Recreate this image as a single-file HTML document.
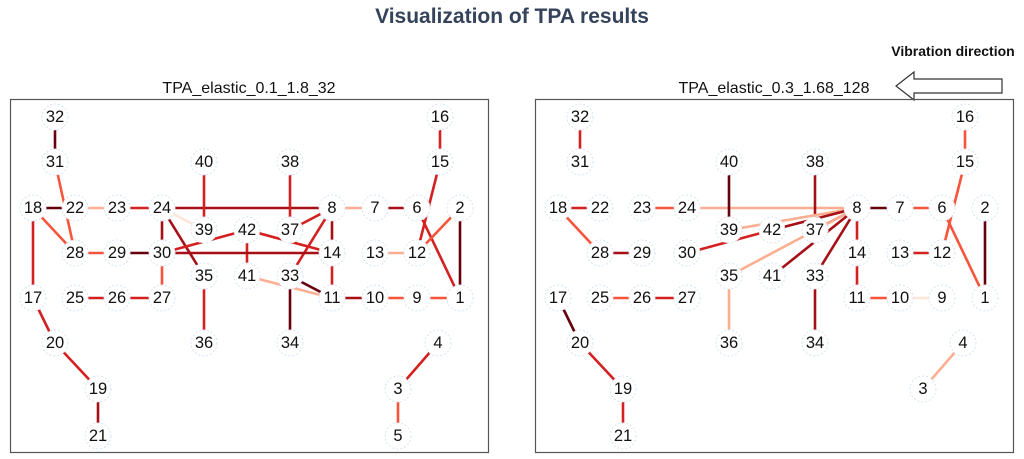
<!DOCTYPE html>
<html><head><meta charset="utf-8"><style>
body{margin:0;background:#fff;width:1024px;height:459px;overflow:hidden}
svg{display:block;font-family:"Liberation Sans","DejaVu Sans",sans-serif}
.n circle{fill:#fff;stroke:#d6e4f3;stroke-width:1;stroke-dasharray:2 2}
.n text{font-size:16.5px;fill:#111;text-anchor:middle;dominant-baseline:central}
line{stroke-width:2.6}
.k{stroke:#67000d}.d{stroke:#a50f15}.r{stroke:#d42020}.o{stroke:#f6553c}.l{stroke:#fcae91}.f{stroke:#fee5d9}
</style></head><body>
<svg width="1024" height="459" viewBox="0 0 1024 459">
<text x="512" y="23" font-size="21" font-weight="bold" fill="#34425a" text-anchor="middle">Visualization of TPA results</text>
<text x="953" y="56" font-size="14" font-weight="bold" fill="#111" text-anchor="middle">Vibration direction</text>
<polygon points="896,86 914,72 914,79 1002,79 1002,93 914,93 914,100" fill="#fff" stroke="#333" stroke-width="1.2"/>
<text x="249" y="93" font-size="16" fill="#111" text-anchor="middle">TPA_elastic_0.1_1.8_32</text>
<text x="774" y="93" font-size="16" fill="#111" text-anchor="middle">TPA_elastic_0.3_1.68_128</text>
<rect x="10.5" y="99.5" width="478" height="353" fill="none" stroke="#555" stroke-width="1.2"/>
<rect x="535.5" y="99.5" width="478" height="353" fill="none" stroke="#555" stroke-width="1.2"/>

<g>
<line class="k" x1="55" y1="117" x2="55" y2="162"/>
<line class="o" x1="55" y1="162" x2="75" y2="253"/>
<line class="k" x1="33" y1="208" x2="75" y2="208"/>
<line class="o" x1="33" y1="208" x2="75" y2="253"/>
<line class="r" x1="33" y1="208" x2="33" y2="298"/>
<line class="l" x1="75" y1="208" x2="117" y2="208"/>
<line class="r" x1="117" y1="208" x2="162" y2="208"/>
<line class="d" x1="162" y1="208" x2="332" y2="208"/>
<line class="f" x1="162" y1="208" x2="204" y2="230"/>
<line class="d" x1="162" y1="208" x2="162" y2="253"/>
<line class="d" x1="162" y1="208" x2="204" y2="276"/>
<line class="r" x1="204" y1="162" x2="204" y2="230"/>
<line class="r" x1="290" y1="162" x2="290" y2="230"/>
<line class="l" x1="332" y1="208" x2="375" y2="208"/>
<line class="d" x1="375" y1="208" x2="417" y2="208"/>
<line class="r" x1="417" y1="208" x2="460" y2="298"/>
<line class="r" x1="440" y1="117" x2="440" y2="162"/>
<line class="r" x1="440" y1="162" x2="417" y2="253"/>
<line class="o" x1="460" y1="208" x2="417" y2="253"/>
<line class="k" x1="460" y1="208" x2="460" y2="298"/>
<line class="l" x1="375" y1="253" x2="417" y2="253"/>
<line class="r" x1="332" y1="208" x2="290" y2="230"/>
<line class="r" x1="332" y1="208" x2="290" y2="276"/>
<line class="d" x1="332" y1="208" x2="332" y2="253"/>
<line class="r" x1="247" y1="230" x2="162" y2="253"/>
<line class="r" x1="247" y1="230" x2="332" y2="253"/>
<line class="r" x1="247" y1="230" x2="247" y2="276"/>
<line class="o" x1="75" y1="253" x2="117" y2="253"/>
<line class="k" x1="117" y1="253" x2="162" y2="253"/>
<line class="d" x1="162" y1="253" x2="332" y2="253"/>
<line class="o" x1="162" y1="253" x2="162" y2="298"/>
<line class="r" x1="332" y1="253" x2="332" y2="298"/>
<line class="l" x1="247" y1="276" x2="332" y2="298"/>
<line class="k" x1="290" y1="276" x2="332" y2="298"/>
<line class="k" x1="290" y1="276" x2="290" y2="343"/>
<line class="d" x1="332" y1="298" x2="375" y2="298"/>
<line class="o" x1="375" y1="298" x2="417" y2="298"/>
<line class="o" x1="417" y1="298" x2="460" y2="298"/>
<line class="r" x1="75" y1="298" x2="117" y2="298"/>
<line class="r" x1="117" y1="298" x2="162" y2="298"/>
<line class="r" x1="204" y1="276" x2="204" y2="343"/>
<line class="r" x1="33" y1="298" x2="55" y2="343"/>
<line class="r" x1="55" y1="343" x2="98" y2="389"/>
<line class="d" x1="98" y1="389" x2="98" y2="436"/>
<line class="r" x1="438" y1="343" x2="398" y2="389"/>
<line class="o" x1="398" y1="389" x2="398" y2="436"/>
</g>

<g transform="translate(525,0)">
<line class="r" x1="55" y1="117" x2="55" y2="162"/>
<line class="o" x1="440" y1="117" x2="440" y2="162"/>
<line class="o" x1="440" y1="162" x2="417" y2="253"/>
<line class="o" x1="417" y1="208" x2="460" y2="298"/>
<line class="k" x1="460" y1="208" x2="460" y2="298"/>
<line class="r" x1="33" y1="208" x2="75" y2="208"/>
<line class="o" x1="33" y1="208" x2="75" y2="253"/>
<line class="d" x1="75" y1="253" x2="117" y2="253"/>
<line class="o" x1="117" y1="208" x2="162" y2="208"/>
<line class="l" x1="162" y1="208" x2="332" y2="208"/>
<line class="k" x1="204" y1="162" x2="204" y2="230"/>
<line class="d" x1="290" y1="162" x2="290" y2="230"/>
<line class="k" x1="332" y1="208" x2="375" y2="208"/>
<line class="o" x1="375" y1="208" x2="417" y2="208"/>
<line class="l" x1="332" y1="208" x2="204" y2="230"/>
<line class="d" x1="332" y1="208" x2="247" y2="230"/>
<line class="r" x1="247" y1="230" x2="162" y2="253"/>
<line class="r" x1="332" y1="208" x2="290" y2="230"/>
<line class="l" x1="332" y1="208" x2="204" y2="276"/>
<line class="d" x1="332" y1="208" x2="247" y2="276"/>
<line class="d" x1="332" y1="208" x2="290" y2="276"/>
<line class="r" x1="332" y1="208" x2="332" y2="253"/>
<line class="r" x1="332" y1="253" x2="332" y2="298"/>
<line class="o" x1="332" y1="298" x2="375" y2="298"/>
<line class="f" x1="375" y1="298" x2="417" y2="298"/>
<line class="r" x1="375" y1="253" x2="417" y2="253"/>
<line class="o" x1="75" y1="298" x2="117" y2="298"/>
<line class="r" x1="117" y1="298" x2="162" y2="298"/>
<line class="l" x1="204" y1="276" x2="204" y2="343"/>
<line class="d" x1="290" y1="276" x2="290" y2="343"/>
<line class="k" x1="33" y1="298" x2="55" y2="343"/>
<line class="r" x1="55" y1="343" x2="98" y2="389"/>
<line class="r" x1="98" y1="389" x2="98" y2="436"/>
<line class="l" x1="438" y1="343" x2="398" y2="389"/>
</g>

<g class="n">
<g transform="translate(55,117)"><circle r="13"/><text>32</text></g>
<g transform="translate(55,162)"><circle r="13"/><text>31</text></g>
<g transform="translate(440,117)"><circle r="13"/><text>16</text></g>
<g transform="translate(440,162)"><circle r="13"/><text>15</text></g>
<g transform="translate(204,162)"><circle r="13"/><text>40</text></g>
<g transform="translate(290,162)"><circle r="13"/><text>38</text></g>
<g transform="translate(33,208)"><circle r="13"/><text>18</text></g>
<g transform="translate(75,208)"><circle r="13"/><text>22</text></g>
<g transform="translate(117,208)"><circle r="13"/><text>23</text></g>
<g transform="translate(162,208)"><circle r="13"/><text>24</text></g>
<g transform="translate(332,208)"><circle r="13"/><text>8</text></g>
<g transform="translate(375,208)"><circle r="13"/><text>7</text></g>
<g transform="translate(417,208)"><circle r="13"/><text>6</text></g>
<g transform="translate(460,208)"><circle r="13"/><text>2</text></g>
<g transform="translate(204,230)"><circle r="13"/><text>39</text></g>
<g transform="translate(247,230)"><circle r="13"/><text>42</text></g>
<g transform="translate(290,230)"><circle r="13"/><text>37</text></g>
<g transform="translate(75,253)"><circle r="13"/><text>28</text></g>
<g transform="translate(117,253)"><circle r="13"/><text>29</text></g>
<g transform="translate(162,253)"><circle r="13"/><text>30</text></g>
<g transform="translate(332,253)"><circle r="13"/><text>14</text></g>
<g transform="translate(375,253)"><circle r="13"/><text>13</text></g>
<g transform="translate(417,253)"><circle r="13"/><text>12</text></g>
<g transform="translate(204,276)"><circle r="13"/><text>35</text></g>
<g transform="translate(247,276)"><circle r="13"/><text>41</text></g>
<g transform="translate(290,276)"><circle r="13"/><text>33</text></g>
<g transform="translate(33,298)"><circle r="13"/><text>17</text></g>
<g transform="translate(75,298)"><circle r="13"/><text>25</text></g>
<g transform="translate(117,298)"><circle r="13"/><text>26</text></g>
<g transform="translate(162,298)"><circle r="13"/><text>27</text></g>
<g transform="translate(332,298)"><circle r="13"/><text>11</text></g>
<g transform="translate(375,298)"><circle r="13"/><text>10</text></g>
<g transform="translate(417,298)"><circle r="13"/><text>9</text></g>
<g transform="translate(460,298)"><circle r="13"/><text>1</text></g>
<g transform="translate(55,343)"><circle r="13"/><text>20</text></g>
<g transform="translate(204,343)"><circle r="13"/><text>36</text></g>
<g transform="translate(290,343)"><circle r="13"/><text>34</text></g>
<g transform="translate(438,343)"><circle r="13"/><text>4</text></g>
<g transform="translate(98,389)"><circle r="13"/><text>19</text></g>
<g transform="translate(398,389)"><circle r="13"/><text>3</text></g>
<g transform="translate(98,436)"><circle r="13"/><text>21</text></g>
<g transform="translate(398,436)"><circle r="13"/><text>5</text></g>
</g>

<g class="n" transform="translate(525,0)">
<g transform="translate(55,117)"><circle r="13"/><text>32</text></g>
<g transform="translate(55,162)"><circle r="13"/><text>31</text></g>
<g transform="translate(440,117)"><circle r="13"/><text>16</text></g>
<g transform="translate(440,162)"><circle r="13"/><text>15</text></g>
<g transform="translate(204,162)"><circle r="13"/><text>40</text></g>
<g transform="translate(290,162)"><circle r="13"/><text>38</text></g>
<g transform="translate(33,208)"><circle r="13"/><text>18</text></g>
<g transform="translate(75,208)"><circle r="13"/><text>22</text></g>
<g transform="translate(117,208)"><circle r="13"/><text>23</text></g>
<g transform="translate(162,208)"><circle r="13"/><text>24</text></g>
<g transform="translate(332,208)"><circle r="13"/><text>8</text></g>
<g transform="translate(375,208)"><circle r="13"/><text>7</text></g>
<g transform="translate(417,208)"><circle r="13"/><text>6</text></g>
<g transform="translate(460,208)"><circle r="13"/><text>2</text></g>
<g transform="translate(204,230)"><circle r="13"/><text>39</text></g>
<g transform="translate(247,230)"><circle r="13"/><text>42</text></g>
<g transform="translate(290,230)"><circle r="13"/><text>37</text></g>
<g transform="translate(75,253)"><circle r="13"/><text>28</text></g>
<g transform="translate(117,253)"><circle r="13"/><text>29</text></g>
<g transform="translate(162,253)"><circle r="13"/><text>30</text></g>
<g transform="translate(332,253)"><circle r="13"/><text>14</text></g>
<g transform="translate(375,253)"><circle r="13"/><text>13</text></g>
<g transform="translate(417,253)"><circle r="13"/><text>12</text></g>
<g transform="translate(204,276)"><circle r="13"/><text>35</text></g>
<g transform="translate(247,276)"><circle r="13"/><text>41</text></g>
<g transform="translate(290,276)"><circle r="13"/><text>33</text></g>
<g transform="translate(33,298)"><circle r="13"/><text>17</text></g>
<g transform="translate(75,298)"><circle r="13"/><text>25</text></g>
<g transform="translate(117,298)"><circle r="13"/><text>26</text></g>
<g transform="translate(162,298)"><circle r="13"/><text>27</text></g>
<g transform="translate(332,298)"><circle r="13"/><text>11</text></g>
<g transform="translate(375,298)"><circle r="13"/><text>10</text></g>
<g transform="translate(417,298)"><circle r="13"/><text>9</text></g>
<g transform="translate(460,298)"><circle r="13"/><text>1</text></g>
<g transform="translate(55,343)"><circle r="13"/><text>20</text></g>
<g transform="translate(204,343)"><circle r="13"/><text>36</text></g>
<g transform="translate(290,343)"><circle r="13"/><text>34</text></g>
<g transform="translate(438,343)"><circle r="13"/><text>4</text></g>
<g transform="translate(98,389)"><circle r="13"/><text>19</text></g>
<g transform="translate(398,389)"><circle r="13"/><text>3</text></g>
<g transform="translate(98,436)"><circle r="13"/><text>21</text></g>
</g>
</svg>
</body></html>
